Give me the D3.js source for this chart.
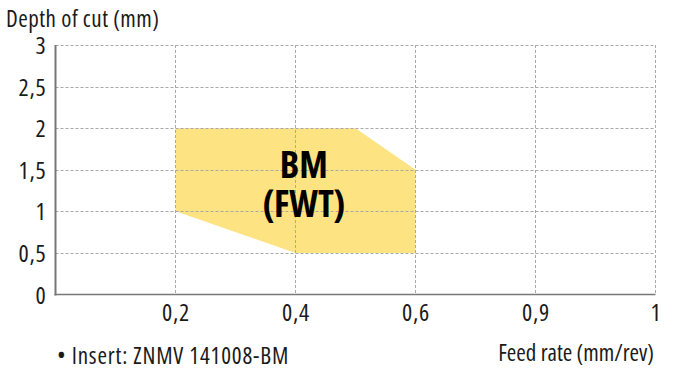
<!DOCTYPE html>
<html>
<head>
<meta charset="utf-8">
<script src="https://cdn.jsdelivr.net/npm/d3@7/dist/d3.min.js"></script>
<style>
  html, body { margin: 0; padding: 0; background: #fff; }
  svg { display: block; }
  text { font-family: "Open Sans", sans-serif; font-stretch: 75%; }
</style>
</head>
<body>
<svg id="chart" width="673" height="370"></svg>
<script>
// Categories on the x axis (evenly spaced, first slot is the origin)
const xCategories = ["", "0,2", "0,4", "0,6", "0,9", "1"];
const yTicks = [0, 0.5, 1, 1.5, 2, 2.5, 3];
const yTickLabels = ["0", "0,5", "1", "1,5", "2", "2,5", "3"];
// Polygon of the working area: x as category position (index), y as depth of cut
const areaX = [1, 1, 2.5, 3, 3, 2];
const areaY = [1, 2, 2, 1.5, 0.5, 0.5];
const areaLabel = ["BM", "(FWT)"];
const yTitle = "Depth of cut (mm)";
const xTitle = "Feed rate (mm/rev)";
const note = "• Insert: ZNMV 141008-BM";

const svg = d3.select("#chart");
const mLeft = 55.5, mRight = 655.5, mTop = 45, mBottom = 294.5;

const x = d3.scaleLinear().domain([0, xCategories.length - 1]).range([mLeft, mRight]);
const y = d3.scaleLinear().domain([0, 3]).range([mBottom, mTop]);

// area polygon
const pts = areaX.map((v, i) => [x(v), y(areaY[i])]);
svg.append("path")
  .attr("d", d3.line()(pts) + "Z")
  .attr("fill", "#fde381");

// grid
const grid = svg.append("g");
grid.selectAll("line.h").data(yTicks.slice(1)).join("line")
  .attr("x1", mLeft).attr("x2", mRight)
  .attr("y1", d => Math.round(y(d)) + 0.5).attr("y2", d => Math.round(y(d)) + 0.5)
  .attr("stroke", "#a8a8a8").attr("stroke-width", 1).attr("stroke-dasharray", "3,2");
grid.selectAll("line.v").data(d3.range(1, xCategories.length)).join("line")
  .attr("x1", d => x(d)).attr("x2", d => x(d))
  .attr("y1", mTop).attr("y2", mBottom)
  .attr("stroke", "#a8a8a8").attr("stroke-width", 1).attr("stroke-dasharray", "3,2");

// axes
const yAxis = d3.axisLeft(y).tickValues(yTicks).tickSize(0).tickPadding(9)
  .tickFormat((d, i) => yTickLabels[i]);
const gy = svg.append("g").attr("transform", `translate(${mLeft},0)`).call(yAxis);
gy.select(".domain").attr("stroke", "#777").attr("stroke-width", 2)
  .attr("d", `M0,${mTop}V${mBottom + 1}`);
gy.selectAll("text").attr("font-size", 24).attr("fill", "#1a1a1a")
  .attr("font-family", null).attr("dy", "0.36em").attr("letter-spacing", 0.8);

const xAxis = d3.axisBottom(x).tickValues(d3.range(1, xCategories.length)).tickSize(0).tickPadding(9)
  .tickFormat(d => xCategories[d]);
const gx = svg.append("g").attr("transform", `translate(0,${mBottom})`).call(xAxis);
gx.select(".domain").attr("stroke", "#777").attr("stroke-width", 1.5)
  .attr("d", `M${mLeft - 1},0H${mRight}`);
gx.selectAll("text").attr("font-size", 24).attr("fill", "#1a1a1a")
  .attr("font-family", null).attr("dy", "0.72em").attr("letter-spacing", 0.8);

// area label
svg.append("text")
  .attr("x", x(2.07)).attr("y", 178)
  .attr("text-anchor", "middle")
  .attr("font-size", 37).attr("fill", "#000")
  .style("font-weight", "bold")
  .selectAll("tspan").data(areaLabel).join("tspan")
  .attr("x", x(2.07)).attr("dy", (d, i) => i === 0 ? 0 : 38.5)
  .text(d => d);

// titles
svg.append("text").attr("x", 6).attr("y", 27).attr("font-size", 23).attr("fill", "#1a1a1a")
  .attr("letter-spacing", 0.5).text(yTitle);
svg.append("text").attr("x", 654).attr("y", 361).attr("text-anchor", "end")
  .attr("font-size", 23).attr("fill", "#1a1a1a").text(xTitle);
svg.append("text").attr("x", 57).attr("y", 364).attr("font-size", 23).attr("fill", "#1a1a1a")
  .attr("letter-spacing", 0.85).text(note);
</script>
</body>
</html>
